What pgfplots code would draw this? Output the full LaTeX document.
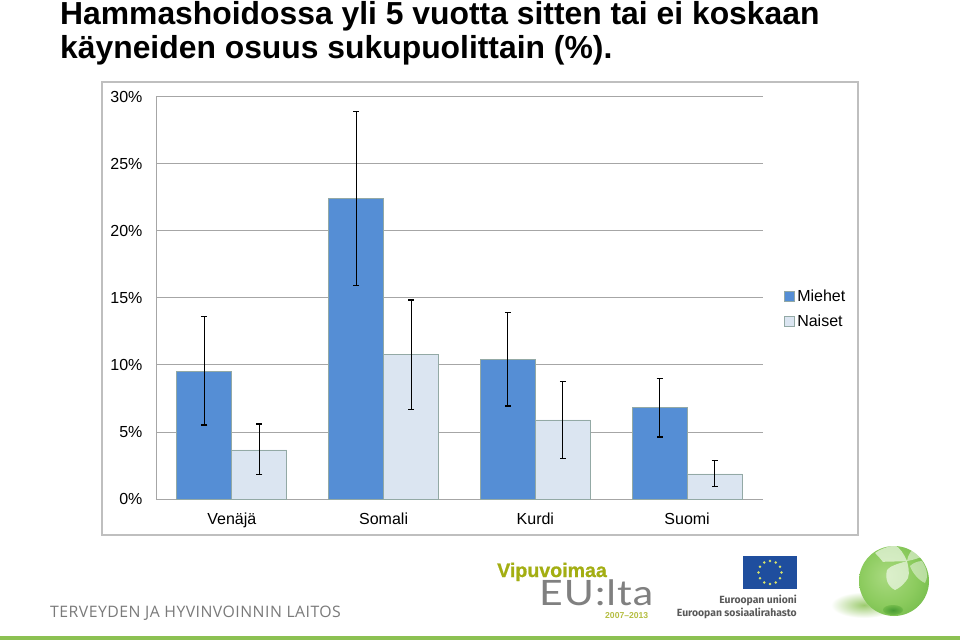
\documentclass[border=0pt]{standalone}
\usepackage{fontspec}
\setmainfont{Liberation Sans}
\newfontfamily\logofont[LetterSpace=3]{Open Sans}
\newfontfamily\eufont{Fira Sans}
\newfontfamily\thinfont[FakeStretch=1.17,LetterSpace=3]{Lato}
\usepackage{pgfplots}
\usepackage{pgfplotstable}
\pgfplotsset{compat=1.18}

\definecolor{miehet}{HTML}{558ED5}
\definecolor{naiset}{HTML}{DBE5F1}
\definecolor{baredge}{HTML}{93A9A5}
\definecolor{gridc}{HTML}{A6A6A6}
\definecolor{framec}{HTML}{BFBFBF}
\definecolor{barbot}{HTML}{8CC152}
\definecolor{olive}{HTML}{A3AE12}
\definecolor{eublue}{HTML}{1F4E9E}
\definecolor{eustar}{HTML}{D9E36A}
\definecolor{shadowc}{HTML}{9CCB6E}
\definecolor{gl1}{HTML}{A9DA80}
\definecolor{gl2}{HTML}{8CCB5E}
\definecolor{gl3}{HTML}{69B543}
\definecolor{gl4}{HTML}{44A02F}
\definecolor{gl5}{HTML}{2F8A25}
\pgfdeclareradialshading{globe}{\pgfpoint{-6bp}{4bp}}{
  color(0bp)=(gl1);
  color(20bp)=(gl2);
  color(38bp)=(gl3);
  color(50bp)=(gl4);
  color(60bp)=(gl5)}

% x, value, error up, error down
\pgfplotstableread{
x m    mp   mn
0 9.55 4.10 4.03
1 22.4 6.50 6.50
2 10.4 3.50 3.46
3 6.80 2.16 2.17
}\miehettable
\pgfplotstableread{
x n    np   nm
0 3.66 1.94 1.86
1 10.8 4.05 4.10
2 5.90 2.90 2.90
3 1.87 1.03 0.97
}\naisettable

\begin{document}
\begin{tikzpicture}[x=1pt,y=1pt]
\path[use as bounding box,fill=white] (0,0) rectangle (960,640);

% title
\node[anchor=base west,inner sep=0pt,font=\fontsize{31.85}{34}\selectfont\bfseries] at (60,615) {Hammashoidossa yli 5 vuotta sitten tai ei koskaan};
\node[anchor=base west,inner sep=0pt,font=\fontsize{31.85}{34}\selectfont\bfseries] at (60,581) {käyneiden osuus sukupuolittain (\%).};

% chart frame
\draw[framec,line width=1.6pt] (102,105) rectangle (858,558);

\begin{axis}[
    at={(156pt,141pt)}, anchor=south west,
    scale only axis, width=607pt, height=402pt,
    ybar=0pt, bar width=55pt,
    xmin=-0.5, xmax=3.5, ymin=0, ymax=30,
    axis x line*=bottom, axis y line*=left,
    axis line style={gridc,line width=1pt},
    xtick=data, xticklabels={Venäjä,Somali,Kurdi,Suomi},
    ytick={0,5,10,15,20,25,30},
    yticklabel={\pgfmathprintnumber{\tick}\%},
    /pgf/number format/assume math mode=true,
    tick style={draw=none},
    ymajorgrids, grid style={gridc,line width=1pt},
    tick label style={font=\fontsize{16}{18}\selectfont,black},
    xticklabel style={yshift=-6pt},
    yticklabel style={xshift=-10pt},
    legend style={at={(1.035,0.525)},anchor=north west,draw=none,fill=none,
      font=\fontsize{16}{18}\selectfont,row sep=8pt,inner sep=0pt,
      /tikz/every even column/.style={column sep=1pt}},
    legend cell align=left,
    legend image code/.code={\draw[#1] (0pt,-5pt) rectangle (10pt,5pt);},
    clip=false,
]
\addplot[fill=miehet,draw=baredge,line width=0.8pt,
    error bars/.cd,y dir=both,y explicit,
    error bar style={black,line width=1.1pt},
    error mark options={black,line width=1.1pt,mark size=3pt,rotate=90}]
    table[x=x,y=m,y error plus=mp,y error minus=mn]{\miehettable};
\addlegendentry{Miehet}
\addplot[fill=naiset,draw=baredge,line width=0.8pt,
    error bars/.cd,y dir=both,y explicit,
    error bar style={black,line width=1.1pt},
    error mark options={black,line width=1.1pt,mark size=3pt,rotate=90}]
    table[x=x,y=n,y error plus=np,y error minus=nm]{\naisettable};
\addlegendentry{Naiset}
\end{axis}

% bottom: THL name and green band
\node[anchor=base west,inner sep=0pt,text=black!52,font=\logofont\fontsize{15.8}{16}\selectfont] at (50,23) {TERVEYDEN JA HYVINVOINNIN LAITOS};
\fill[barbot] (0,0) rectangle (960,4);

% Vipuvoimaa logo
\node[anchor=base west,inner sep=0pt,text=olive,font=\fontsize{19.6}{20}\selectfont\bfseries\addfontfeatures{FakeBold=0.8}] at (497,63) {Vipuvoimaa};
\node[anchor=base west,inner sep=0pt,text=black!50,font=\thinfont\fontsize{35}{40}\selectfont] at (539,35) {EU:lta};
\node[anchor=base west,inner sep=0pt,text=olive!80,font=\fontsize{8.6}{9}\selectfont\bfseries] at (605,22) {2007–2013};

% EU flag
\fill[eublue] (743,51) rectangle (797,84);
\foreach \a in {0,30,...,330}
  \fill[eustar] ({770+11.5*cos(\a)},{67.5+11.5*sin(\a)}) circle (1.4);
\node[anchor=base east,inner sep=0pt,text=black!65,font=\eufont\fontsize{10.4}{13}\selectfont\bfseries] at (797,37) {Euroopan unioni};
\node[anchor=base east,inner sep=0pt,text=black!65,font=\eufont\fontsize{10.4}{13}\selectfont\bfseries] at (797,24) {Euroopan sosiaalirahasto};

% globe
\shade[inner color=shadowc,outer color=white,draw=none] (864,35) ellipse (33 and 13);
\shade[shading=globe] (894,59) circle (35);
\shade[inner color=gl5,outer color=gl3,opacity=0.7] (893,30) ellipse (10 and 5);
\fill[white,opacity=0.6] (907,79) .. controls (897,76) and (890,74) .. (887,70) .. controls (885,62) and (887,54) .. (895,50) .. controls (902,53) and (907,60) .. (908,62) .. controls (910,68) and (908,74) .. (907,79) -- cycle;
\fill[white,opacity=0.6] (907,79) .. controls (898,78) and (888,79) .. (883,78) .. controls (880,82) and (877,85) .. (875,87) .. controls (880,91) and (887,93) .. (895,95) .. controls (900,92) and (904,86) .. (907,79) -- cycle;
\fill[white,opacity=0.45] (910,74) .. controls (912,68) and (918,60) .. (925,57) .. controls (928,62) and (928,70) .. (922,79) .. controls (918,79) and (913,77) .. (910,74) -- cycle;
\fill[white,opacity=0.5] (907,79) .. controls (908,85) and (911,90) .. (915,92) .. controls (919,90) and (923,87) .. (925,85) .. controls (920,82) and (913,80) .. (907,79) -- cycle;
\end{tikzpicture}
\end{document}
